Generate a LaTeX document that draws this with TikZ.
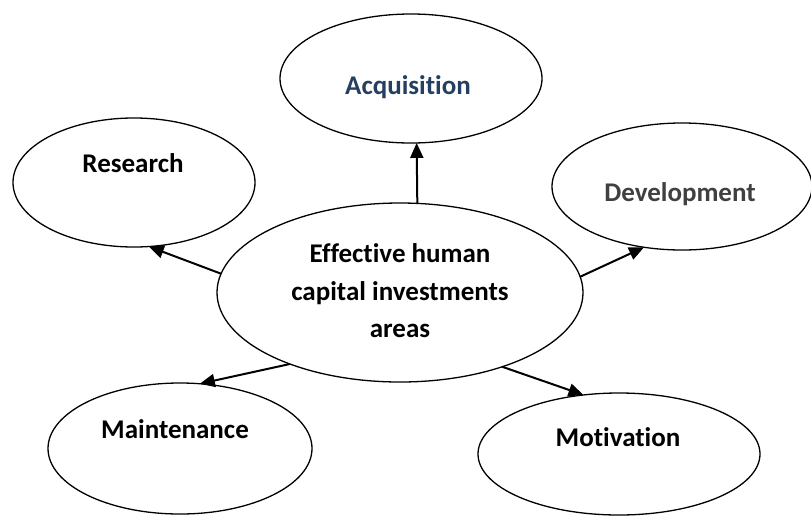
\documentclass[tikz,border=0pt]{standalone}
\usepackage{fontspec}
\setmainfont{Carlito}[Ligatures={NoCommon,NoRequired,NoContextual}]
\usetikzlibrary{shapes.geometric,arrows.meta}
\definecolor{acqblue}{HTML}{243F60}
\definecolor{devgray}{HTML}{404040}

\begin{document}
\begin{tikzpicture}[x=1pt,y=-1pt,
		area/.style={draw,ellipse,line width=1.3pt,inner sep=0pt,outer sep=0pt},
		areatext/.style={font=\fontsize{27}{37.5}\selectfont\bfseries,align=center,inner sep=0pt,text height=18pt,text depth=0pt},
		link/.style={line width=2pt,-{Triangle[length=15pt,width=13pt]}}]
		\useasboundingbox (0,0) rectangle (811,515);
		% ellipses
		\node[area,minimum width=366pt,minimum height=179pt] (central) at (400,292.5) {};
		\node[area,minimum width=262pt,minimum height=129pt] (acquisition) at (411,78.5) {};
		\node[area,minimum width=242pt,minimum height=129pt] (research) at (134,182.5) {};
		\node[area,minimum width=260pt,minimum height=127pt] (development) at (682,186.5) {};
		\node[area,minimum width=264pt,minimum height=131pt] (maintenance) at (180,448.5) {};
		\node[area,minimum width=282pt,minimum height=122pt] (motivation) at (619,454) {};
		% texts
		\node[font=\fontsize{27}{37.5}\selectfont\bfseries,align=center,inner sep=0pt] (central-t) at (400,291) {Effective human\\capital investments\\areas};
		\node[areatext,text=acqblue] (acquisition-t) at (408,85) {Acquisition};
		\node[areatext] (research-t) at (133,163) {Research};
		\node[areatext,text=devgray] (development-t) at (680,192) {Development};
		\node[areatext] (maintenance-t) at (175,429) {Maintenance};
		\node[areatext] (motivation-t) at (618,437) {Motivation};
		% arrows
		\path[link]
		(central.79.2) edge (acquisition.275.4)
		(central.174) edge (research.283.2)
		(central.5.4) edge (development.238.6)
		(central.213.2) edge (maintenance.73.1)
		(central.324.8) edge (motivation.121.2);
\end{tikzpicture}
\end{document}
